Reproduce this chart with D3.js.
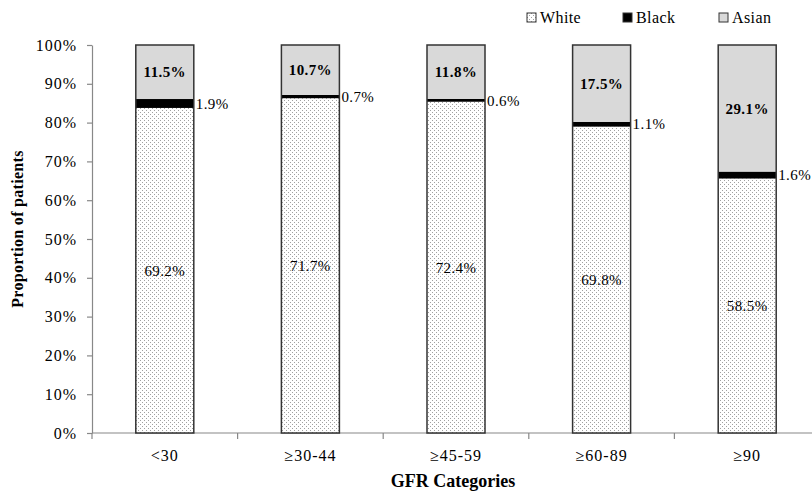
<!DOCTYPE html>
<html>
<head>
<meta charset="utf-8">
<script src="https://cdn.jsdelivr.net/npm/d3@7"></script>
<style>
  body { margin: 0; background: #fff; }
  text { font-family: "Liberation Serif", "Times New Roman", serif; }
</style>
</head>
<body>
<svg id="chart" width="812" height="496"></svg>
<script>
// raw percentages per GFR category (bars are normalised to 100%)
var categories = ["<30", "\u226530-44", "\u226545-59", "\u226560-89", "\u226590"];
var white = [69.2, 71.7, 72.4, 69.8, 58.5];
var black = [1.9, 0.7, 0.6, 1.1, 1.6];
var asian = [11.5, 10.7, 11.8, 17.5, 29.1];
var yTicks = [0, 0.1, 0.2, 0.3, 0.4, 0.5, 0.6, 0.7, 0.8, 0.9, 1];
var seriesNames = ["White", "Black", "Asian"];

var rows = categories.map(function(c, i) {
    return {cat: c, White: white[i], Black: black[i], Asian: asian[i]};
});

var svg = d3.select("#chart");
var plotLeft = 92, plotRight = 820, plotTop = 45, plotBottom = 433;

var x = d3.scaleBand().domain(categories).range([plotLeft, plotRight]).paddingInner(0).paddingOuter(0);
var y = d3.scaleLinear().domain([0, 1]).range([plotBottom, plotTop]);
var barW = 58;

// dotted fill for White
var defs = svg.append("defs");
var pat = defs.append("pattern")
    .attr("id", "dots")
    .attr("patternUnits", "userSpaceOnUse")
    .attr("width", 4).attr("height", 4);
pat.append("rect").attr("width", 4).attr("height", 4).attr("fill", "#fff");
pat.append("rect").attr("x", 0).attr("y", 0).attr("width", 1).attr("height", 1).attr("fill", "#a0a0a0");
pat.append("rect").attr("x", 2).attr("y", 2).attr("width", 1).attr("height", 1).attr("fill", "#a0a0a0");

var fills = {White: "url(#dots)", Black: "#000", Asian: "#d9d9d9"};

var stacked = d3.stack().keys(seriesNames).offset(d3.stackOffsetExpand)(rows);

// axes
var yAxis = d3.axisLeft(y).tickValues(yTicks).tickSize(5).tickSizeOuter(0)
    .tickFormat(function(d) { return Math.round(d * 100) + "%"; });
var gy = svg.append("g").attr("transform", "translate(" + plotLeft + ",0)").call(yAxis);
gy.select(".domain").attr("stroke", "#888").attr("stroke-width", 1.2);
gy.selectAll(".tick line").attr("stroke", "#888").attr("stroke-width", 1.2);
gy.selectAll(".tick text")
    .attr("font-size", 16)
    .attr("letter-spacing", 1)
    .attr("fill", "#000")
    .attr("x", -15);

var gx = svg.append("g").attr("transform", "translate(0," + plotBottom + ")");
gx.append("line").attr("x1", plotLeft).attr("x2", plotRight).attr("stroke", "#888").attr("stroke-width", 1.2);
gx.selectAll("line.tk")
    .data(categories)
    .enter().append("line")
    .attr("class", "tk")
    .attr("x1", function(d) { return x(d); })
    .attr("x2", function(d) { return x(d); })
    .attr("y1", 0).attr("y2", 6)
    .attr("stroke", "#888").attr("stroke-width", 1.2);
gx.selectAll("text")
    .data(categories)
    .enter().append("text")
    .attr("x", function(d) { return x(d) + x.bandwidth() / 2; })
    .attr("y", 28)
    .attr("text-anchor", "middle")
    .attr("font-size", 16)
    .attr("letter-spacing", 1)
    .text(function(d) { return d; });

// bars
var layer = svg.append("g").selectAll("g")
    .data(stacked)
    .enter().append("g")
    .attr("fill", function(d) { return fills[d.key]; });

layer.selectAll("rect")
    .data(function(d) { return d; })
    .enter().append("rect")
    .attr("x", function(d) { return x(d.data.cat) + (x.bandwidth() - barW) / 2; })
    .attr("y", function(d) { return y(d[1]); })
    .attr("width", barW)
    .attr("height", function(d) { return y(d[0]) - y(d[1]); });

// bar outlines
svg.append("g").selectAll("rect")
    .data(rows)
    .enter().append("rect")
    .attr("x", function(d) { return x(d.cat) + (x.bandwidth() - barW) / 2; })
    .attr("y", y(1))
    .attr("width", barW)
    .attr("height", y(0) - y(1))
    .attr("fill", "none")
    .attr("stroke", "#333")
    .attr("stroke-width", 1.5);

// labels
var labels = svg.append("g");
stacked.forEach(function(s) {
    s.forEach(function(d) {
        var cx = x(d.data.cat) + x.bandwidth() / 2;
        var cy = (y(d[0]) + y(d[1])) / 2;
        var t = labels.append("text")
            .attr("font-size", 15)
            .attr("letter-spacing", 0.4)
            .attr("dy", "0.35em")
            .text(d.data[s.key].toFixed(1) + "%");
        if (s.key == "Black") {
            t.attr("x", cx + barW / 2 + 2).attr("y", cy);
        } else {
            t.attr("x", cx).attr("y", cy).attr("text-anchor", "middle");
            if (s.key == "Asian") t.attr("font-weight", "bold");
        }
    });
});

// axis titles
svg.append("text")
    .attr("transform", "translate(23,229) rotate(-90)")
    .attr("text-anchor", "middle")
    .attr("font-size", 16)
    .attr("letter-spacing", 0.3)
    .attr("font-weight", "bold")
    .text("Proportion of patients");

svg.append("text")
    .attr("x", 453).attr("y", 487)
    .attr("text-anchor", "middle")
    .attr("font-size", 18)
    .attr("font-weight", "bold")
    .text("GFR Categories");

// legend
var legX = [527, 623, 719];
var leg = svg.append("g").selectAll("g")
    .data(seriesNames)
    .enter().append("g")
    .attr("transform", function(d, i) { return "translate(" + legX[i] + ",13)"; });
leg.append("rect")
    .attr("width", 9).attr("height", 9)
    .attr("fill", function(d) { return fills[d]; })
    .attr("stroke", "#333").attr("stroke-width", 1);
leg.append("text")
    .attr("x", 13).attr("y", 4)
    .attr("dy", "0.35em")
    .attr("font-size", 16)
    .attr("letter-spacing", 0.4)
    .text(function(d) { return d; });
</script>
</body>
</html>
